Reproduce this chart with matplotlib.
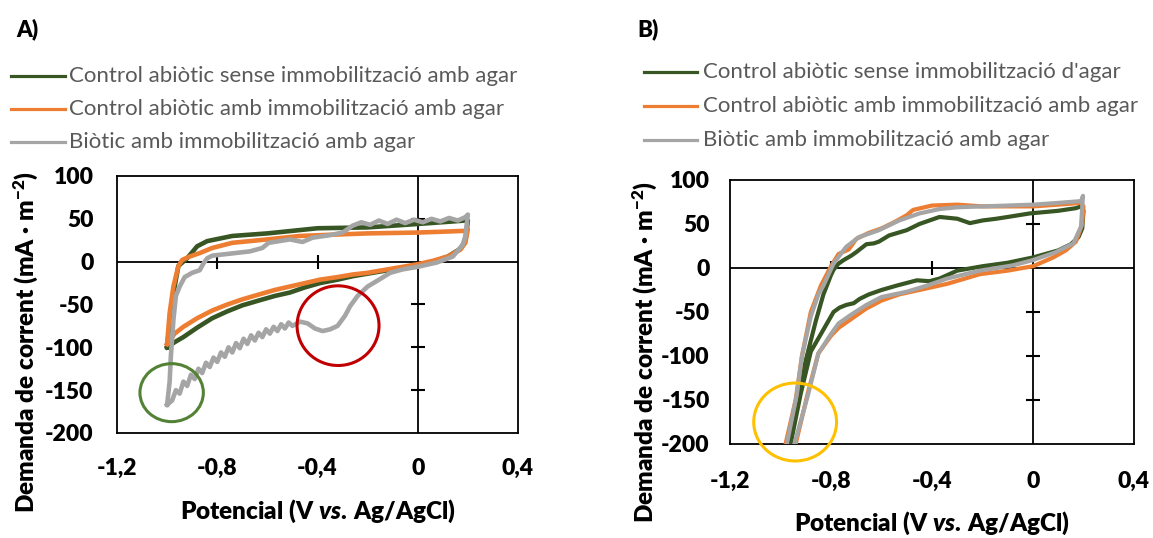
import matplotlib
matplotlib.use("Agg")
import matplotlib.pyplot as plt
from matplotlib.lines import Line2D
from matplotlib.patches import Ellipse

plt.rcParams["font.family"] = ["Lato", "DejaVu Sans"]
plt.rcParams["mathtext.fontset"] = "custom"
plt.rcParams["mathtext.rm"] = "Lato:heavy"
plt.rcParams["mathtext.it"] = "Lato:italic:heavy"
plt.rcParams["mathtext.bf"] = "Lato:heavy"

GREEN = "#375623"
ORANGE = "#ED7D31"
GRAY = "#A5A5A5"
HEAVY = 800

x_ticks = [-1.2, -0.8, -0.4, 0.0, 0.4]
x_labels = ["-1,2", "-0,8", "-0,4", "0", "0,4"]
y_ticks = [-200, -150, -100, -50, 0, 50, 100]
y_labels = ["-200", "-150", "-100", "-50", "0", "50", "100"]

# ---- panel A (loop: anodic branch -1.0 -> 0.2, then cathodic back to -1.0)
a_green_E = [-1.0, -0.99, -0.975, -0.955, -0.92, -0.88, -0.84, -0.74, -0.6, -0.4, -0.2, 0.0, 0.19, 0.2,
             0.19, 0.17, 0.12, 0.06, 0.0, -0.06, -0.12, -0.2, -0.26, -0.32, -0.39, -0.45, -0.51, -0.57,
             -0.63, -0.7, -0.76, -0.82, -0.88, -0.935, -0.97, -1.0]
a_green_I = [-100, -70, -37, -5, 4, 18, 24, 30, 33, 39, 40, 44, 48, 48,
             25, 15, 6, 0, -4, -7, -10, -14, -17, -21, -25, -30, -36, -40,
             -45, -51, -58, -66, -77, -88, -94, -100]

a_orange_E = [-1.0, -0.99, -0.975, -0.955, -0.94, -0.91, -0.87, -0.82, -0.74, -0.6, -0.47, -0.34, -0.2, 0.0, 0.1,
              0.19, 0.2, 0.19, 0.17, 0.12, 0.06, 0.0, -0.06, -0.12, -0.2, -0.26, -0.32, -0.39, -0.45, -0.51,
              -0.57, -0.63, -0.7, -0.76, -0.82, -0.88, -0.935, -0.97, -0.99, -1.0]
a_orange_I = [-96, -60, -29, -5, 2, 6, 10, 16, 22, 26, 30, 31.5, 33, 34, 35,
              36, 38, 22, 14, 6, 1, -3, -6, -9, -13, -15, -18, -21, -25, -29,
              -33, -38, -44, -50, -57, -66, -76, -84, -92, -96]

a_gray_E = [-1.0, -0.99, -0.985, -0.98, -0.975, -0.965, -0.95, -0.93, -0.9, -0.87, -0.855, -0.84, -0.82,
            -0.76, -0.67, -0.62, -0.595, -0.51, -0.46, -0.42, -0.35, -0.3, -0.26, -0.225, -0.19, -0.155,
            -0.12, -0.085, -0.05, -0.015, 0.02, 0.055, 0.09, 0.125, 0.16, 0.19, 0.2,
            0.19, 0.18, 0.14, 0.076, 0.0, -0.06, -0.11, -0.16, -0.2, -0.24, -0.27, -0.29,
            -0.32, -0.35, -0.38, -0.41, -0.44, -0.47, -0.5, -0.515, -0.53, -0.545, -0.56, -0.575, -0.59,
            -0.605, -0.62, -0.635, -0.65, -0.665, -0.68, -0.695, -0.71, -0.725, -0.74, -0.755, -0.77,
            -0.785, -0.8, -0.815, -0.83, -0.845, -0.86, -0.875, -0.89, -0.905, -0.92, -0.935, -0.95,
            -0.965, -0.98, -1.0]
a_gray_I = [-167, -140, -110, -90, -68, -40, -29, -18, -13, -10, -2, 4, 7,
            9, 12, 16, 22, 26, 23, 28, 31, 34, 42, 46, 43, 48, 44,
            49, 45, 49, 46, 50, 47, 51, 48, 52, 55,
            30, 20, 6, -1, -6, -9, -13, -22, -29, -40, -52, -63,
            -75, -79, -81, -78, -72, -70, -75, -71, -78, -73, -81, -76, -84,
            -79, -88, -83, -92, -86, -96, -90, -101, -95, -106, -100, -111,
            -106, -117, -112, -123, -118, -130, -125, -137, -132, -145, -140, -154,
            -150, -162, -167]

# ---- panel B
b_green_E = [-0.97, -0.935, -0.9, -0.86, -0.83, -0.8, -0.79, -0.77, -0.75, -0.72, -0.7, -0.66, -0.63,
             -0.61, -0.57, -0.5, -0.45, -0.37, -0.3, -0.25, -0.2, -0.145, -0.1, -0.013, 0.1, 0.17, 0.19,
             0.2, 0.195, 0.18, 0.15, 0.1, 0.05, 0.0, -0.1, -0.2, -0.3, -0.37, -0.41, -0.46, -0.54, -0.6,
             -0.65, -0.686, -0.71, -0.74, -0.766, -0.79, -0.82, -0.85, -0.88, -0.92, -0.96]
b_green_I = [-200, -150, -105, -60, -30, -8, -2, 5, 9, 14, 18, 27, 28,
             30, 37, 43, 50, 58, 56, 51, 54, 56, 58, 62, 65, 68, 70,
             65, 45, 35, 27, 20, 16, 12, 6, 2, -3, -12, -15, -14, -20, -25,
             -30, -35, -40, -42, -45, -50, -65, -80, -95, -143, -200]

b_orange_E = [-0.98, -0.94, -0.915, -0.88, -0.84, -0.8, -0.77, -0.73, -0.7, -0.65, -0.6, -0.55, -0.5,
              -0.475, -0.4, -0.3, -0.2, -0.1, 0.0, 0.1, 0.19, 0.2, 0.195, 0.17, 0.13, 0.08, 0.0, -0.1,
              -0.21, -0.34, -0.45, -0.53, -0.6, -0.66, -0.72, -0.77, -0.8, -0.85, -0.89, -0.94]
b_orange_I = [-200, -150, -100, -50, -20, 2, 16, 21, 33, 40, 45, 52, 60,
              66, 71, 72, 70, 70, 70, 72, 74, 70, 50, 30, 20, 12, 2, -3,
              -7, -18, -25, -30, -37, -46, -58, -68, -77, -97, -140, -200]

b_gray_E = [-0.975, -0.935, -0.915, -0.88, -0.85, -0.83, -0.79, -0.74, -0.69, -0.61, -0.53, -0.45, -0.37,
            -0.3, -0.2, -0.1, 0.0, 0.1, 0.19, 0.198, 0.19, 0.16, 0.09, 0.0, -0.08, -0.21, -0.34, -0.42,
            -0.5, -0.6, -0.66, -0.72, -0.77, -0.8, -0.85, -0.89, -0.945]
b_gray_I = [-200, -143, -100, -55, -30, -20, 5, 24, 35, 43, 54, 62, 67,
            69, 70, 71, 72, 74, 76, 82, 47, 28, 18, 9, 3, -3, -12, -20,
            -27, -33, -42, -53, -63, -75, -97, -143, -200]

legend_a = ["Control abiòtic sense immobilització amb agar",
            "Control abiòtic amb immobilització amb agar",
            "Biòtic amb immobilització amb agar"]
legend_b = ["Control abiòtic sense immobilització d'agar",
            "Control abiòtic amb immobilització amb agar",
            "Biòtic amb immobilització amb agar"]

W, H = 1153, 538
fig = plt.figure(figsize=(W / 100, H / 100), dpi=100)


def px_axes(left, top, right, bottom):
    return fig.add_axes([left / W, 1 - bottom / H, (right - left) / W, (bottom - top) / H])


def style_panel(ax, xpad, ypad):
    ax.set_xlim(-1.2, 0.4)
    ax.set_ylim(-200, 100)
    ax.axhline(0, color="black", lw=1.3, zorder=1)
    ax.axvline(0, color="black", lw=1.3, zorder=1)
    # Excel-like crossing tick marks on the zero axes
    ax.plot(x_ticks[1:3], [0, 0], ls="none", marker="|", ms=10, mew=1.5, color="black", zorder=1)
    ax.plot([0] * 4, [50, -50, -100, -150], ls="none", marker="_", ms=10, mew=1.5, color="black", zorder=1)
    ax.tick_params(length=0, labelsize=16.5, colors="black")
    ax.tick_params(axis="x", pad=xpad)
    ax.tick_params(axis="y", pad=ypad)
    ax.set_xticks(x_ticks)
    ax.set_xticklabels(x_labels, fontweight=HEAVY)
    ax.set_yticks(y_ticks)
    ax.set_yticklabels(y_labels, fontweight=HEAVY)
    for s in ax.spines.values():
        s.set_linewidth(1.3)
        s.set_color("black")


def draw_legend(x0, x1, xt, rows, labels):
    for y, lab, col in zip(rows, labels, [GREEN, ORANGE, GRAY]):
        fig.add_artist(Line2D([x0 / W, x1 / W], [1 - y / H, 1 - y / H], color=col, lw=2.3))
        fig.text(xt / W, 1 - y / H, lab, fontsize=16, color="#595959", va="center", ha="left")


ylab = "Demanda de corrent (mA · m$^{\\mathbf{-2}}$)"
xlab = "Potencial (V $\\mathit{vs.}\\,$Ag/AgCl)"

# ---- panel A
axA = px_axes(117, 176, 518, 433)
style_panel(axA, 18, 17)
for E, I, c in [(a_green_E, a_green_I, GREEN), (a_orange_E, a_orange_I, ORANGE), (a_gray_E, a_gray_I, GRAY)]:
    axA.plot(E, I, color=c, lw=3.3, solid_joinstyle="round", zorder=3)
axA.add_patch(Ellipse((-0.318, -74.7), 0.327, 93, fill=False, ec="#C00000", lw=2.2, zorder=4))
axA.add_patch(Ellipse((-0.982, -152.9), 0.253, 67.7, fill=False, ec="#548235", lw=2.2, zorder=4, clip_on=False))
fig.text(26 / W, 1 - 342 / H, ylab, rotation=90, fontsize=17.5, fontweight=HEAVY, ha="center", va="center")
fig.text(318 / W, 1 - 511 / H, xlab, fontsize=17.5, fontweight=HEAVY, ha="center", va="center")
fig.text(16 / W, 1 - 29 / H, "A)", fontsize=16, fontweight=HEAVY, ha="left", va="center")
draw_legend(11, 65, 69, [76, 109, 142], legend_a)

# ---- panel B
axB = px_axes(730, 180, 1134, 444)
style_panel(axB, 19.5, 14.5)
for E, I, c in [(b_green_E, b_green_I, GREEN), (b_orange_E, b_orange_I, ORANGE), (b_gray_E, b_gray_I, GRAY)]:
    axB.plot(E, I, color=c, lw=3.0, solid_joinstyle="round", zorder=3)
axB.add_patch(Ellipse((-0.942, -175), 0.328, 88.6, fill=False, ec="#FFC000", lw=2.2, zorder=4, clip_on=False))
fig.text(645 / W, 1 - 352 / H, ylab, rotation=90, fontsize=17.5, fontweight=HEAVY, ha="center", va="center")
fig.text(932 / W, 1 - 523 / H, xlab, fontsize=17.5, fontweight=HEAVY, ha="center", va="center")
fig.text(637 / W, 1 - 29 / H, "B)", fontsize=16, fontweight=HEAVY, ha="left", va="center")
draw_legend(644, 697, 703, [72, 106, 140], legend_b)

fig.savefig("out.png", dpi=100)
